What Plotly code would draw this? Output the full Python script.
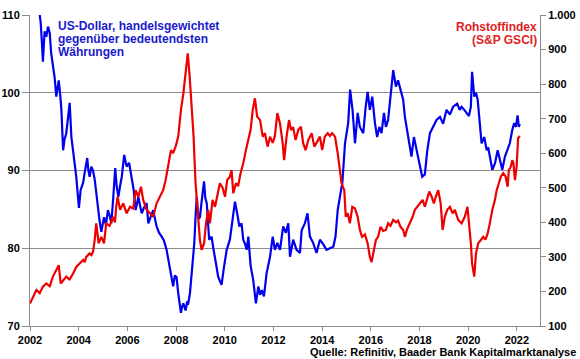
import plotly.graph_objects as go

# US-Dollar index (left axis), decimal years
usd_t = [2002.00,2002.20,2002.38,2002.44,2002.49,2002.53,2002.60,2002.67,2002.74,2002.81,2002.87,2002.94,
 2003.01,2003.08,2003.18,2003.24,2003.29,2003.36,2003.42,2003.49,2003.56,2003.63,2003.70,2003.77,2003.84,2003.90,2003.96,
 2004.01,2004.08,2004.18,2004.25,2004.35,2004.40,2004.45,2004.52,2004.59,2004.66,2004.72,2004.79,2004.86,2004.93,2004.98,
 2005.04,2005.12,2005.20,2005.27,2005.34,2005.42,2005.50,2005.56,2005.63,2005.70,2005.77,2005.87,2005.92,2005.97,
 2006.07,2006.12,2006.18,2006.26,2006.34,2006.45,2006.52,2006.59,2006.68,2006.79,2006.86,2006.96,
 2007.06,2007.20,2007.30,2007.41,2007.50,2007.61,2007.68,2007.75,2007.82,2007.88,2007.95,
 2008.02,2008.09,2008.15,2008.20,2008.25,2008.30,2008.39,2008.45,2008.50,2008.57,2008.67,2008.75,2008.80,2008.85,2008.92,2008.98,
 2009.05,2009.15,2009.20,2009.26,2009.36,2009.46,2009.53,2009.60,2009.67,2009.73,2009.87,2009.97,
 2010.08,2010.21,2010.28,2010.35,2010.42,2010.51,2010.60,2010.69,2010.76,2010.84,2010.90,2010.97,
 2011.06,2011.17,2011.28,2011.38,2011.45,2011.52,2011.61,2011.72,2011.86,2011.97,
 2012.06,2012.16,2012.27,2012.40,2012.51,2012.61,2012.68,2012.81,2012.95,
 2013.09,2013.16,2013.29,2013.40,2013.50,2013.63,2013.77,2013.91,
 2014.05,2014.18,2014.32,2014.46,2014.55,2014.64,2014.73,2014.83,2014.94,
 2015.07,2015.15,2015.25,2015.35,2015.46,2015.55,2015.69,2015.79,2015.87,2015.96,
 2016.06,2016.17,2016.26,2016.35,2016.44,2016.54,2016.62,2016.71,2016.81,2016.92,
 2017.03,2017.12,2017.22,2017.33,2017.40,2017.49,2017.61,2017.67,2017.77,2017.88,
 2018.02,2018.11,2018.22,2018.32,2018.43,2018.56,2018.70,2018.84,2018.97,
 2019.11,2019.25,2019.38,2019.55,2019.65,2019.73,2019.84,2019.93,
 2020.03,2020.11,2020.16,2020.25,2020.32,2020.39,2020.48,2020.55,2020.66,2020.76,2020.82,2020.89,2020.99,
 2021.10,2021.21,2021.30,2021.40,2021.51,2021.60,2021.71,2021.81,2021.89,2021.96,
 2022.03,2022.08,2022.12]
usd_v = [112.0,111.5,110.5,109.0,106.4,104.0,107.9,107.2,108.5,107.7,105.1,103.5,
 102.0,99.5,101.6,99.8,97.8,92.6,94.0,94.8,96.5,98.7,94.3,92.6,91.0,89.2,87.0,
 85.2,87.5,88.4,89.8,91.6,90.0,89.2,90.5,90.0,88.8,87.0,85.8,83.5,82.1,83.0,
 84.0,83.0,84.9,84.2,83.2,86.5,90.3,88.0,86.6,88.0,89.2,92.0,91.2,90.5,
 91.0,90.0,89.2,87.5,84.9,86.6,85.5,84.5,85.2,85.8,83.2,84.0,
 84.9,82.8,82.0,81.5,81.0,79.8,78.5,77.2,76.0,75.1,76.5,
 76.3,74.2,73.0,71.7,72.5,72.9,72.0,73.0,72.9,74.2,77.8,80.7,84.0,86.6,83.8,84.0,
 86.0,88.6,86.5,85.8,81.1,81.5,80.0,78.9,77.5,76.3,75.3,77.6,
 79.8,81.1,83.0,84.9,86.0,84.5,82.8,83.2,81.1,80.5,79.8,81.5,
 77.8,75.9,72.9,75.1,74.0,74.6,73.8,76.8,78.9,81.5,
 79.8,80.7,79.8,82.8,82.0,83.2,78.9,81.1,79.8,
 79.4,82.3,83.2,84.5,81.5,80.7,79.4,81.1,
 80.5,79.8,80.0,80.2,81.5,84.9,86.6,88.4,93.5,
 96.1,100.4,97.8,93.5,97.4,95.6,94.8,98.2,100.1,97.8,
 99.5,96.1,94.3,95.6,94.8,97.4,95.6,96.5,99.9,102.9,
 100.8,101.6,100.4,99.1,96.9,95.2,93.5,91.8,94.3,92.6,
 90.5,89.2,89.5,92.6,94.8,95.6,96.5,96.9,96.0,
 97.8,97.2,98.2,98.6,97.8,98.2,97.8,97.4,
 97.0,98.2,102.7,99.5,100.0,99.1,96.1,93.5,94.3,92.6,93.0,91.8,90.1,
 90.9,92.6,91.4,90.1,91.8,92.6,93.5,95.2,96.1,95.6,
 97.1,95.6,96.0]

# S&P GSCI (right axis)
gsci_t = [2002.00,2002.12,2002.26,2002.33,2002.40,2002.53,2002.67,2002.81,2002.94,
 2003.08,2003.18,2003.26,2003.36,2003.49,2003.56,2003.63,2003.77,2003.90,
 2004.04,2004.18,2004.25,2004.31,2004.45,2004.52,2004.59,2004.66,2004.72,2004.82,2004.93,
 2005.04,2005.13,2005.27,2005.41,2005.49,2005.54,2005.60,2005.70,2005.83,2005.97,
 2006.11,2006.24,2006.34,2006.45,2006.56,2006.65,2006.79,2006.93,
 2007.06,2007.20,2007.34,2007.47,2007.57,2007.68,2007.79,2007.88,2007.98,
 2008.09,2008.20,2008.30,2008.39,2008.48,2008.56,2008.64,2008.72,2008.80,2008.89,2008.98,
 2009.05,2009.15,2009.23,2009.32,2009.39,2009.50,2009.60,2009.69,2009.80,2009.91,
 2010.01,2010.10,2010.21,2010.28,2010.35,2010.46,2010.55,2010.65,2010.76,2010.87,2010.97,
 2011.06,2011.15,2011.24,2011.33,2011.45,2011.56,2011.65,2011.76,2011.86,2011.97,
 2012.06,2012.16,2012.27,2012.38,2012.44,2012.54,2012.64,2012.72,2012.81,2012.91,
 2013.02,2013.13,2013.22,2013.32,2013.43,2013.57,2013.68,2013.77,2013.91,
 2014.00,2014.11,2014.23,2014.32,2014.41,2014.53,2014.64,2014.73,2014.80,2014.91,2014.97,
 2015.05,2015.14,2015.24,2015.35,2015.46,2015.55,2015.64,2015.76,2015.87,2015.96,
 2016.03,2016.10,2016.21,2016.30,2016.40,2016.51,2016.62,2016.71,2016.81,2016.92,
 2017.03,2017.12,2017.22,2017.33,2017.40,2017.49,2017.61,2017.72,2017.81,2017.91,
 2018.02,2018.13,2018.22,2018.32,2018.40,2018.50,2018.59,2018.67,2018.77,2018.87,2018.95,
 2019.04,2019.14,2019.25,2019.36,2019.45,2019.59,2019.73,2019.86,2019.97,
 2020.04,2020.11,2020.16,2020.25,2020.32,2020.41,2020.52,2020.62,2020.71,2020.80,2020.89,2020.99,
 2021.10,2021.17,2021.26,2021.34,2021.44,2021.54,2021.62,2021.67,2021.75,2021.81,2021.86,2021.92,2021.99,
 2022.05,2022.12]
gsci_v = [165,185,204,200,195,214,223,215,243,
 262,276,223,233,243,238,235,252,271,
 281,291,285,300,310,305,315,350,397,339,358,
 339,397,390,416,400,445,474,436,455,426,
 445,440,493,474,503,465,436,426,
 416,455,474,493,522,561,609,600,619,
 648,725,773,831,889,821,725,648,513,416,349,
 320,339,397,436,397,465,445,474,513,500,
 474,522,532,551,484,513,505,542,571,609,638,
 667,725,759,706,696,648,658,619,648,630,
 650,716,686,629,580,648,696,667,675,638,
 667,677,629,609,638,658,619,630,648,
 609,648,658,650,658,648,600,551,513,493,416,
 426,397,445,440,416,378,358,365,339,300,
 285,310,349,358,387,375,378,397,390,407,
 400,405,387,378,358,380,397,416,436,445,
 455,465,445,474,489,474,455,474,493,455,378,
 416,436,445,426,436,407,397,416,445,
 397,339,281,243,310,339,349,358,350,368,397,436,
 465,493,513,532,542,532,503,551,561,580,570,522,561,
 643,650]

left_ticks = [70, 80, 90, 100, 110]
right_ticks = [100, 200, 300, 400, 500, 600, 700, 800, 900, 1000]
right_labels = ["100", "200", "300", "400", "500", "600", "700", "800", "900", "1.000"]
year_ticks = list(range(2002, 2023, 2))

FONT = "Liberation Sans, Arial, sans-serif"
BLUE = "#0000EE"
RED = "#EE0000"
GRID = "#8c8c8c"

fig = go.Figure()
fig.add_trace(go.Scatter(x=usd_t, y=usd_v, mode="lines", line=dict(color=BLUE, width=2.2),
                         yaxis="y", showlegend=False))
fig.add_trace(go.Scatter(x=gsci_t, y=gsci_v, mode="lines", line=dict(color=RED, width=2.2),
                         yaxis="y2", showlegend=False))

tickfont = dict(family=FONT, size=11, color="black", weight=700)

fig.update_layout(
    width=580, height=359,
    margin=dict(l=30, r=40, t=15, b=33, autoexpand=False),
    paper_bgcolor="white", plot_bgcolor="white",
    font=dict(family=FONT, size=11, color="black"),
    hovermode=False,
    xaxis=dict(range=[2002, 2022.95], tickvals=year_ticks, showgrid=False, zeroline=False,
               showline=True, linecolor=GRID, linewidth=1, ticks="outside", ticklen=4,
               tickcolor=GRID, tickfont=tickfont, automargin=False),
    yaxis=dict(range=[70, 110], tickvals=left_ticks, showgrid=True, gridcolor=GRID, gridwidth=1,
               zeroline=False, showline=True, linecolor=GRID, linewidth=1, ticks="outside",
               ticklen=7, tickcolor=GRID, tickfont=tickfont, automargin=False),
    yaxis2=dict(range=[100, 1000], tickvals=right_ticks, ticktext=right_labels, overlaying="y",
                side="right", showgrid=False, zeroline=False, showline=True, linecolor=GRID,
                linewidth=1, ticks="outside", ticklen=5, tickcolor=GRID, tickfont=tickfont,
                automargin=False),
)

def px_y(py):
    return (326 - py) / 311.0

def px_x(px):
    return (px - 30) / 510.0

afont_b = dict(family=FONT, size=12, color="#1a1acc", weight=700)
afont_r = dict(family=FONT, size=12, color="#e01e1e", weight=700)
for txt, py in [("US-Dollar, handelsgewichtet", 25.5), ("gegenüber bedeutendsten", 38.5), ("Währungen", 51.5)]:
    fig.add_annotation(x=px_x(56), y=px_y(py), xref="paper", yref="paper", text=txt, showarrow=False,
                       xanchor="left", yanchor="middle", font=afont_b)
for txt, py in [("Rohstoffindex", 27), ("(S&P GSCI)", 40)]:
    fig.add_annotation(x=px_x(539), y=px_y(py), xref="paper", yref="paper", text=txt, showarrow=False,
                       xanchor="right", yanchor="middle", font=afont_r)
fig.add_annotation(x=px_x(578), y=px_y(351.5), xref="paper", yref="paper",
                   text="Quelle: Refinitiv, Baader Bank Kapitalmarktanalyse", showarrow=False,
                   xanchor="right", yanchor="middle", font=dict(family=FONT, size=11, color="black", weight=700))

fig.write_html("out.html", config={"displayModeBar": False, "staticPlot": True},
               post_script="document.body.style.margin='0';")
